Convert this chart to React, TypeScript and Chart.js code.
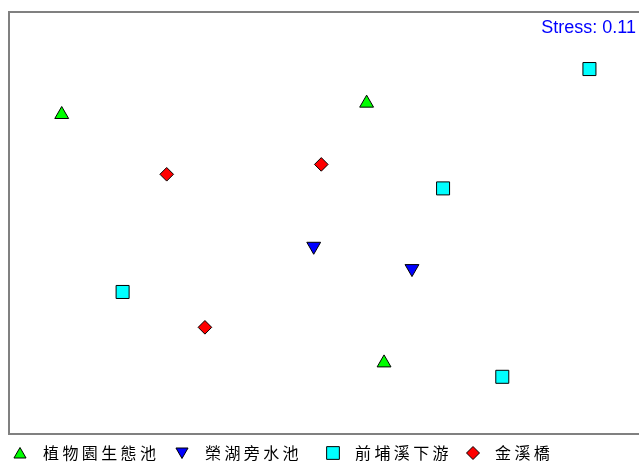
import React, { useEffect, useRef } from "react";
import { Chart, registerables } from "chart.js";

Chart.register(...registerables);

// NMDS coordinates
const groupNames = ["植物園生態池", "榮湖旁水池", "前埔溪下游", "金溪橋"];
const botanicX = [-1.249, 0.203, 0.286];
const botanicY = [0.513, 0.567, -0.667];
const lakeX = [-0.049, 0.419];
const lakeY = [-0.113, -0.219];
const creekX = [1.264, 0.567, -0.959, 0.849];
const creekY = [0.729, 0.162, -0.33, -0.733];
const bridgeX = [-0.749, -0.013, -0.567];
const bridgeY = [0.229, 0.276, -0.498];
const stressLabel = "Stress: 0.11";

const toPts = (xs: number[], ys: number[]) => xs.map((x, i) => ({ x, y: ys[i] }));

const markerStyles = [
  { fill: "#00ff00", style: "triangle", rot: 0, r: 8, lr: 7 },
  { fill: "#0000ff", style: "triangle", rot: 180, r: 8, lr: 7 },
  { fill: "#00ffff", style: "rect", rot: 0, r: 9.2, lr: 9 },
  { fill: "#ff0000", style: "rectRot", rot: 0, r: 6.8, lr: 6.5 },
];

function drawMarker(ctx: CanvasRenderingContext2D, kind: string, rot: number, x: number, y: number, r: number, fill: string) {
  ctx.save();
  ctx.beginPath();
  if (kind === "triangle") {
    let a = (rot * Math.PI) / 180;
    ctx.moveTo(x + Math.sin(a) * r, y - Math.cos(a) * r);
    for (let k = 0; k < 2; k++) {
      a += (2 * Math.PI) / 3;
      ctx.lineTo(x + Math.sin(a) * r, y - Math.cos(a) * r);
    }
    ctx.closePath();
  } else if (kind === "rect") {
    const s = Math.SQRT1_2 * r;
    ctx.rect(x - s, y - s, 2 * s, 2 * s);
  } else {
    ctx.moveTo(x, y - r);
    ctx.lineTo(x + r, y);
    ctx.lineTo(x, y + r);
    ctx.lineTo(x - r, y);
    ctx.closePath();
  }
  ctx.fillStyle = fill;
  ctx.fill();
  ctx.strokeStyle = "#000000";
  ctx.lineWidth = 1;
  ctx.stroke();
  ctx.restore();
}

const framePlugin = {
  id: "framePlugin",
  afterDraw(chart: any) {
    const { ctx, chartArea } = chart;
    ctx.save();
    ctx.strokeStyle = "#808080";
    ctx.lineWidth = 2;
    ctx.strokeRect(chartArea.left, chartArea.top, chartArea.right - chartArea.left + 10, chartArea.bottom - chartArea.top + 1);
    ctx.fillStyle = "#0000ff";
    ctx.font = "18px 'Liberation Sans', Arial, sans-serif";
    ctx.textAlign = "right";
    ctx.textBaseline = "alphabetic";
    ctx.fillText(stressLabel, chartArea.right - 3, chartArea.top + 21);

    // legend
    const ly = 453;
    const markerX = [20, 182, 333, 473];
    const textX = [43, 205, 355, 495];
    ctx.font = "16px 'Noto Sans CJK TC', sans-serif";
    ctx.textAlign = "left";
    ctx.textBaseline = "middle";
    groupNames.forEach((name, i) => {
      const m = markerStyles[i];
      const off = m.style === "triangle" ? (m.rot === 0 ? 1.5 : -1.5) : 0;
      drawMarker(ctx, m.style, m.rot, markerX[i], ly + off, m.lr, m.fill);
      ctx.fillStyle = "#000000";
      Array.from(name).forEach((ch, k) => {
        ctx.fillText(ch, textX[i] + k * 19.4, ly);
      });
    });
    ctx.restore();
  },
};

export default function App() {
  const ref = useRef<HTMLCanvasElement>(null);
  useEffect(() => {
    const series = [
      toPts(botanicX, botanicY),
      toPts(lakeX, lakeY),
      toPts(creekX, creekY),
      toPts(bridgeX, bridgeY),
    ];
    const chart = new Chart(ref.current!, {
      type: "scatter",
      data: {
        datasets: series.map((d, i) => ({
          label: groupNames[i],
          data: d,
          pointStyle: markerStyles[i].style as any,
          pointRotation: markerStyles[i].rot,
          pointRadius: markerStyles[i].r,
          pointHoverRadius: markerStyles[i].r,
          backgroundColor: markerStyles[i].fill,
          borderColor: "#000000",
          borderWidth: 1,
        })),
      },
      options: {
        animation: false,
        responsive: false,
        devicePixelRatio: 1,
        layout: { autoPadding: false, padding: { left: 9, top: 12, right: 0, bottom: 30 } },
        scales: {
          x: { type: "linear", min: -1.5, max: 1.5, display: false },
          y: { type: "linear", min: -1, max: 1, display: false },
        },
        plugins: { legend: { display: false }, tooltip: { enabled: false } },
      },
      plugins: [framePlugin],
    });
    return () => chart.destroy();
  }, []);
  return (
    <div style={{ position: "fixed", left: 0, top: 0, width: 639, height: 463, background: "#ffffff" }}>
      <canvas ref={ref} width={639} height={463} style={{ width: 639, height: 463 }} />
    </div>
  );
}
